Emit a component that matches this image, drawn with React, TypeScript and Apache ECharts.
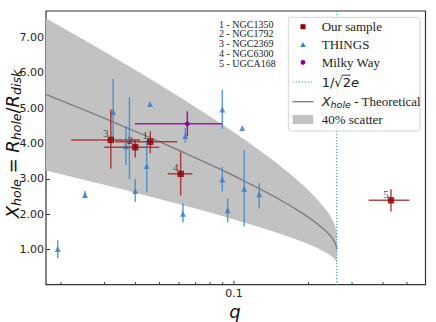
import React, { useEffect, useRef } from 'react';
import * as echarts from 'echarts';

// ---- axis ranges ----
const Q_MIN = 0.0174;
const Q_MAX = 0.594;
const Y_MIN = 0;
const Y_MAX = 7.75;
const Q_CRIT = 0.2601; // 1/(sqrt(2) e)
const SCATTER = 0.4;

// ---- tick values ----
const majorTicks = [0.1];
const minorTicks = [0.02, 0.03, 0.04, 0.05, 0.06, 0.07, 0.08, 0.09, 0.2, 0.3, 0.4, 0.5];
const yTickLabels = ['1.00', '2.00', '3.00', '4.00', '5.00', '6.00', '7.00'];

// ---- theoretical curve (X_hole vs q) ----
const theoryX = [1.0, 1.02, 1.05, 1.1, 1.2, 1.3, 1.4, 1.5, 1.75, 2.0, 2.25, 2.5, 2.75, 3.0, 3.25, 3.5, 3.75, 4.0, 4.25, 4.5, 4.75, 5.0, 5.25, 5.5];
const theoryQ = [0.26013, 0.26008, 0.25982, 0.25891, 0.25557, 0.25052, 0.24412, 0.23667, 0.21503, 0.19139, 0.16769, 0.14511, 0.12431, 0.10561, 0.08911, 0.07473, 0.06236, 0.05181, 0.04287, 0.03535, 0.02906, 0.02382, 0.01948, 0.01589];

// ---- Our sample ----
const oursNames = ['1', '2', '3', '4', '5'];
const oursQ = [0.0459, 0.0399, 0.0318, 0.0609, 0.4308];
const oursX = [4.05, 3.895, 4.1, 3.14, 2.39];
const oursQLo = [0.0331, 0.0299, 0.022, 0.054, 0.35];
const oursQHi = [0.059, 0.0499, 0.0417, 0.0679, 0.5115];
const oursXLo = [3.72, 3.6, 3.29, 2.53, 2.07];
const oursXHi = [4.35, 4.11, 4.96, 3.75, 2.7];

// ---- THINGS ----
const thingsQ = [0.0194, 0.025, 0.0325, 0.0366, 0.0378, 0.0399, 0.0444, 0.0458, 0.0622, 0.0636, 0.0897, 0.0897, 0.0943, 0.108, 0.11, 0.1265];
const thingsX = [1.01, 2.54, 4.89, 3.92, 4.08, 2.65, 3.36, 5.12, 2.01, 4.21, 4.96, 2.98, 2.11, 4.44, 2.72, 2.56];
const thingsXLo = [0.75, 2.45, 4.05, 3.39, 2.98, 2.34, 2.61, 5.12, 1.76, 4.02, 4.41, 2.64, 1.76, 4.44, 1.65, 2.16];
const thingsXHi = [1.26, 2.65, 5.83, 4.5, 5.3, 3.0, 4.1, 5.12, 2.3, 4.44, 5.52, 3.33, 2.44, 4.44, 3.81, 2.87];

// ---- Milky Way ----
const mwQ = [0.0648];
const mwX = [4.555];
const mwQLo = [0.0398];
const mwQHi = [0.0897];
const mwXLo = [4.21];
const mwXHi = [4.91];

// ---- annotation list ----
const galaxyNotes = ['1 - NGC1350', '2 - NGC1792', '3 - NGC2369', '4 - NGC6300', '5 - UGCA168'];

const RED = '#8b0000';
const RED_BAR = 'rgba(168,40,40,0.85)';
const BLUE = '#3a7cbf';
const BLUE_BAR = 'rgba(70,140,205,0.85)';
const PURPLE = '#800080';
const PURPLE_BAR = '#9a1aa6';
const VLINE = '#3f95dc';
const SERIF = '"Liberation Serif", "Times New Roman", serif';
const SANS = '"DejaVu Sans", sans-serif';

function errorBarRender(color: string) {
  return (params: any, api: any) => {
    const q = api.value(0);
    const x = api.value(1);
    const qlo = api.value(2);
    const qhi = api.value(3);
    const xlo = api.value(4);
    const xhi = api.value(5);
    const a = api.coord([qlo, x]);
    const b = api.coord([qhi, x]);
    const c = api.coord([q, xlo]);
    const d = api.coord([q, xhi]);
    const st = { stroke: color, lineWidth: 1.5 };
    return {
      type: 'group',
      children: [
        { type: 'line', shape: { x1: a[0], y1: a[1], x2: b[0], y2: b[1] }, style: st },
        { type: 'line', shape: { x1: c[0], y1: c[1], x2: d[0], y2: d[1] }, style: st },
      ],
    };
  };
}

export default function App() {
  const ref = useRef<HTMLDivElement>(null);

  useEffect(() => {
    if (!ref.current) return;
    const chart = echarts.init(ref.current, undefined, { renderer: 'svg' });

    const oursErr = oursQ.map((q, i) => [q, oursX[i], oursQLo[i], oursQHi[i], oursXLo[i], oursXHi[i]]);
    const thingsErr = thingsQ.map((q, i) => [q, thingsX[i], q, q, thingsXLo[i], thingsXHi[i]]);
    const mwErr = mwQ.map((q, i) => [q, mwX[i], mwQLo[i], mwQHi[i], mwXLo[i], mwXHi[i]]);
    const tickData = [
      ...majorTicks.map((v) => [v, Y_MIN, 4]),
      ...minorTicks.map((v) => [v, Y_MIN, 2.5]),
    ];

    const option: any = {
      animation: false,
      grid: {
        left: 46,
        top: 11,
        right: 10.5,
        bottom: 37.3,
        show: true,
        borderColor: '#333',
        borderWidth: 1.2,
        backgroundColor: 'transparent',
      },
      xAxis: {
        type: 'log',
        logBase: 10,
        min: Q_MIN,
        max: Q_MAX,
        axisLine: { show: false },
        axisTick: { show: false },
        splitLine: { show: false },
        axisLabel: {
          margin: 3,
          fontFamily: SANS,
          fontSize: 11,
          lineHeight: 12,
          color: '#222',
          formatter: (v: number) => (Math.abs(v - 0.1) < 1e-9 ? '0.1' : ''),
        },
      },
      yAxis: {
        type: 'value',
        min: Y_MIN,
        max: Y_MAX,
        interval: 1,
        axisLine: { show: false },
        axisTick: { show: true, inside: true, length: 4, lineStyle: { color: '#333', width: 1 } },
        splitLine: { show: false },
        axisLabel: {
          margin: 2,
          fontFamily: SANS,
          fontSize: 11,
          color: '#222',
          showMaxLabel: false,
          formatter: (v: number) => {
            const i = Math.round(v) - 1;
            return Math.abs(v - Math.round(v)) < 1e-9 && i >= 0 && i < yTickLabels.length ? yTickLabels[i] : '';
          },
        },
      },
      series: [
        {
          type: 'custom',
          name: '40% scatter',
          clip: true,
          silent: true,
          encode: { x: 0, y: 1 },
          data: [[Q_CRIT, 1]],
          z: 1,
          renderItem: (params: any, api: any) => {
            const up = theoryQ.map((q, i) => api.coord([q, theoryX[i] * (1 + SCATTER)]));
            const lo = theoryQ.map((q, i) => api.coord([q, theoryX[i] * (1 - SCATTER)])).reverse();
            return {
              type: 'polygon',
              shape: { points: up.concat(lo) },
              style: { fill: '#c2c2c2', stroke: 'none' },
            };
          },
        },
        {
          type: 'line',
          name: 'theory',
          data: theoryQ.map((q, i) => [q, theoryX[i]]),
          showSymbol: false,
          symbol: 'none',
          clip: true,
          lineStyle: { color: '#7f7f7f', width: 1.4 },
          z: 2,
        },
        {
          type: 'custom',
          name: 'critical',
          silent: true,
          encode: { x: 0, y: 1 },
          data: [[Q_CRIT, 1]],
          z: 3,
          renderItem: (params: any, api: any) => {
            const cs = params.coordSys;
            const p = api.coord([api.value(0), api.value(1)]);
            return {
              type: 'line',
              shape: { x1: p[0], y1: cs.y, x2: p[0], y2: cs.y + cs.height },
              style: { stroke: VLINE, lineWidth: 1.1, lineDash: [1.2, 1.8] },
            };
          },
        },
        {
          type: 'custom',
          name: 'things-err',
          silent: true,
          encode: { x: 0, y: 1 },
          data: thingsErr,
          z: 4,
          renderItem: errorBarRender(BLUE_BAR),
        },
        {
          type: 'scatter',
          name: 'THINGS',
          data: thingsQ.map((q, i) => [q, thingsX[i]]),
          symbol: 'triangle',
          symbolSize: 6,
          itemStyle: { color: BLUE },
          z: 5,
        },
        {
          type: 'custom',
          name: 'ours-err',
          silent: true,
          encode: { x: 0, y: 1 },
          data: oursErr,
          z: 6,
          renderItem: errorBarRender(RED_BAR),
        },
        {
          type: 'scatter',
          name: 'Our sample',
          data: oursQ.map((q, i) => ({ name: oursNames[i], value: [q, oursX[i]] })),
          symbol: 'rect',
          symbolSize: 6.5,
          itemStyle: { color: RED },
          label: {
            show: true,
            position: 'top',
            distance: 0,
            offset: [-5, 2],
            formatter: '{b}',
            fontFamily: SERIF,
            fontSize: 11,
            color: '#222',
          },
          z: 7,
        },
        {
          type: 'custom',
          name: 'mw-err',
          silent: true,
          encode: { x: 0, y: 1 },
          data: mwErr,
          z: 6,
          renderItem: errorBarRender(PURPLE_BAR),
        },
        {
          type: 'scatter',
          name: 'Milky Way',
          data: mwQ.map((q, i) => [q, mwX[i]]),
          symbol: 'circle',
          symbolSize: 5,
          itemStyle: { color: PURPLE },
          z: 7,
        },
        {
          type: 'custom',
          name: 'xticks',
          silent: true,
          encode: { x: 0, y: 1 },
          data: tickData,
          z: 8,
          renderItem: (params: any, api: any) => {
            const cs = params.coordSys;
            const p = api.coord([api.value(0), api.value(1)]);
            const bottom = cs.y + cs.height;
            const len = api.value(2);
            return {
              type: 'line',
              shape: { x1: p[0], y1: bottom, x2: p[0], y2: bottom - len },
              style: { stroke: '#333', lineWidth: 1 },
            };
          },
        },
      ],
      graphic: [
        // galaxy notes
        ...galaxyNotes.map((t, i) => ({
          type: 'text',
          x: 219,
          y: 24 + i * 9.85,
          z: 20,
          style: { text: t, fontFamily: SERIF, fontSize: 10, fill: '#222', align: 'left', verticalAlign: 'middle' },
        })),
        // legend box
        {
          type: 'rect',
          z: 20,
          shape: { x: 288.3, y: 17.3, width: 131.7, height: 113.7, r: 3 },
          style: { fill: 'rgba(255,255,255,0.8)', stroke: '#d4d4d4', lineWidth: 1 },
        },
        { type: 'rect', z: 21, shape: { x: 300.5, y: 24.2, width: 5, height: 5 }, style: { fill: RED } },
        { type: 'polygon', z: 21, shape: { points: [[303, 41.9], [300.3, 47], [305.7, 47]] }, style: { fill: BLUE } },
        { type: 'circle', z: 21, shape: { cx: 303, cy: 62.3, r: 2.4 }, style: { fill: PURPLE } },
        { type: 'line', z: 21, shape: { x1: 292.7, y1: 82, x2: 313.3, y2: 82 }, style: { stroke: VLINE, lineWidth: 1.1, lineDash: [1.2, 1.8] } },
        { type: 'line', z: 21, shape: { x1: 292.7, y1: 101.7, x2: 313.3, y2: 101.7 }, style: { stroke: '#7f7f7f', lineWidth: 1.4 } },
        { type: 'rect', z: 21, shape: { x: 292.7, y: 115, width: 20.6, height: 9 }, style: { fill: '#c2c2c2' } },
        { type: 'text', z: 21, x: 321.7, y: 26.7, style: { text: 'Our sample', fontFamily: SERIF, fontSize: 13, fill: '#222', verticalAlign: 'middle' } },
        { type: 'text', z: 21, x: 321.7, y: 44.7, style: { text: 'THINGS', fontFamily: SERIF, fontSize: 13, fill: '#222', verticalAlign: 'middle' } },
        { type: 'text', z: 21, x: 321.7, y: 62.3, style: { text: 'Milky Way', fontFamily: SERIF, fontSize: 13, fill: '#222', verticalAlign: 'middle' } },
        {
          type: 'text',
          z: 21,
          x: 321.7,
          y: 82,
          style: {
            text: '{a|1/√2}{c|e}',
            verticalAlign: 'middle',
            rich: {
              a: { fontFamily: SANS, fontSize: 13, fill: '#222' },
              c: { fontFamily: SANS, fontSize: 13, fontStyle: 'italic', fill: '#222' },
            },
          },
        },
        // overline of the square root
        { type: 'line', z: 21, shape: { x1: 341.5, y1: 75.2, x2: 350.5, y2: 75.2 }, style: { stroke: '#222', lineWidth: 0.9 } },
        {
          type: 'text',
          z: 21,
          x: 321.7,
          y: 101.7,
          style: {
            text: '{x|X}{s|hole}{t| - Theoretical}',
            verticalAlign: 'middle',
            rich: {
              x: { fontFamily: SANS, fontSize: 13, fontStyle: 'italic', fill: '#222' },
              s: { fontFamily: SANS, fontSize: 9.5, fontStyle: 'italic', fill: '#222', padding: [6, 0, 0, 0] },
              t: { fontFamily: SERIF, fontSize: 13, fill: '#222' },
            },
          },
        },
        { type: 'text', z: 21, x: 321.7, y: 119.3, style: { text: '40% scatter', fontFamily: SERIF, fontSize: 13, fill: '#222', verticalAlign: 'middle' } },
        // axis titles
        {
          type: 'text',
          z: 21,
          x: 235,
          y: 311,
          style: { text: 'q', fontFamily: SANS, fontSize: 18, lineHeight: 18, fontStyle: 'italic', fill: '#111', align: 'center', verticalAlign: 'middle' },
        },
        {
          type: 'text',
          z: 21,
          x: 12,
          y: 144,
          rotation: Math.PI / 2,
          style: {
            text: '{i|X}{s|hole}{n| = }{i|R}{s|hole}{n|/}{i|R}{s|disk}',
            align: 'center',
            verticalAlign: 'middle',
            rich: {
              i: { fontFamily: SANS, fontSize: 18, fontStyle: 'italic', fill: '#111' },
              s: { fontFamily: SANS, fontSize: 12.5, fontStyle: 'italic', fill: '#111', padding: [8, 0, 0, 0] },
              n: { fontFamily: SANS, fontSize: 18, fill: '#111' },
            },
          },
        },
      ],
    };

    chart.setOption(option);
    return () => chart.dispose();
  }, []);

  return <div ref={ref} style={{ position: 'absolute', left: 0, top: 0, width: 436, height: 322 }} />;
}
